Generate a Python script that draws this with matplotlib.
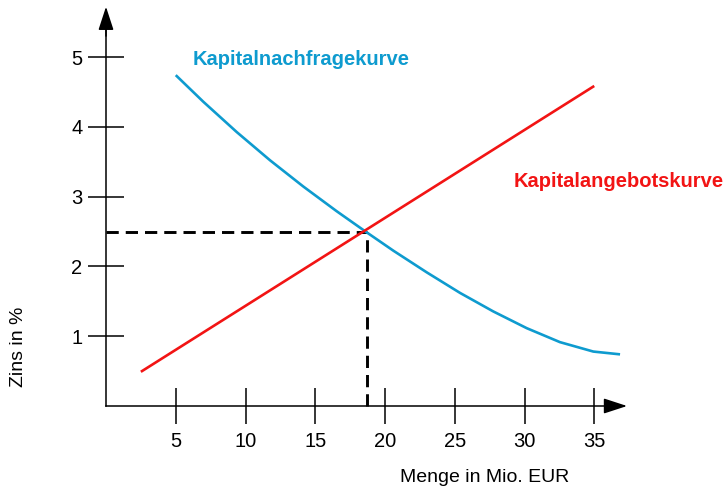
import matplotlib
matplotlib.use("Agg")
import matplotlib.pyplot as plt

plt.rcParams['font.family'] = ['Liberation Sans', 'DejaVu Sans']

BLUE = "#0e9bcf"
RED = "#f21414"

# Kapitalangebotskurve (straight line)
supply_x = [2.5, 35.0]
supply_y = [0.49, 4.585]

# Kapitalnachfragekurve
demand_x = [5.0, 6.97, 9.37, 11.76, 14.14, 16.54, 18.6, 20.6, 22.99,
            25.38, 27.76, 30.16, 32.54, 34.93, 36.85]
demand_y = [4.74, 4.36, 3.925, 3.52, 3.145, 2.79, 2.50, 2.225, 1.915,
            1.62, 1.355, 1.115, 0.915, 0.78, 0.74]

# Gleichgewicht
eq_x = 18.7
eq_y = 2.5

x_ticks = [5, 10, 15, 20, 25, 30, 35]
y_ticks = [1, 2, 3, 4, 5]

fig = plt.figure(figsize=(7.27, 4.86), dpi=100)
ax = fig.add_axes([0, 0, 1, 1])
ax.set_xlim(-106 / 13.95, (727 - 106) / 13.95)
ax.set_ylim(-80 / 69.8, 406 / 69.8)
ax.patch.set_alpha(0)

for s in ["top", "right"]:
    ax.spines[s].set_visible(False)
ax.spines["left"].set_position(("data", 0))
ax.spines["bottom"].set_position(("data", 0))
ax.spines["left"].set_bounds(0, 5.5)
ax.spines["bottom"].set_bounds(0, 36.5)
ax.spines["left"].set_linewidth(1.1)
ax.spines["bottom"].set_linewidth(1.1)

ax.set_xticks(x_ticks)
ax.set_yticks(y_ticks)
ax.tick_params(direction="inout", length=26, width=1.1, labelsize=14.5)
ax.tick_params(axis="x", pad=6)
ax.tick_params(axis="y", pad=4)

# arrow heads
arrow = dict(arrowstyle="-|>,head_length=1.44,head_width=0.47", lw=1.1,
             color="black", shrinkA=0, shrinkB=0, mutation_scale=10)
ax.annotate("", xy=(0, 5.72), xytext=(0, 5.3), arrowprops=arrow)
ax.annotate("", xy=(37.35, 0), xytext=(36.0, 0), arrowprops=arrow)

# dashed guide lines
ax.plot([0, eq_x], [eq_y, eq_y], color="black", lw=2.1, dashes=(4.2, 2.4))
ax.plot([eq_x, eq_x], [0, eq_y], color="black", lw=2.1, dashes=(4.2, 2.4))

ax.plot(demand_x, demand_y, color=BLUE, lw=1.9, solid_capstyle="butt",
        solid_joinstyle="round")
ax.plot(supply_x, supply_y, color=RED, lw=1.9, solid_capstyle="butt")

ax.text(6.24, 4.885, "Kapitalnachfragekurve", color=BLUE, fontsize=14.5,
        fontweight="bold", ha="left", va="baseline")
ax.text(29.25, 3.142, "Kapitalangebotskurve", color=RED, fontsize=14.5,
        fontweight="bold", ha="left", va="baseline")

ax.text(-6.27, 0.845, "Zins in %", rotation=90, fontsize=14,
        ha="center", va="center")
ax.text(27.17, -1.085, "Menge in Mio. EUR", fontsize=14,
        ha="center", va="baseline")

fig.savefig("out.png", dpi=100)
